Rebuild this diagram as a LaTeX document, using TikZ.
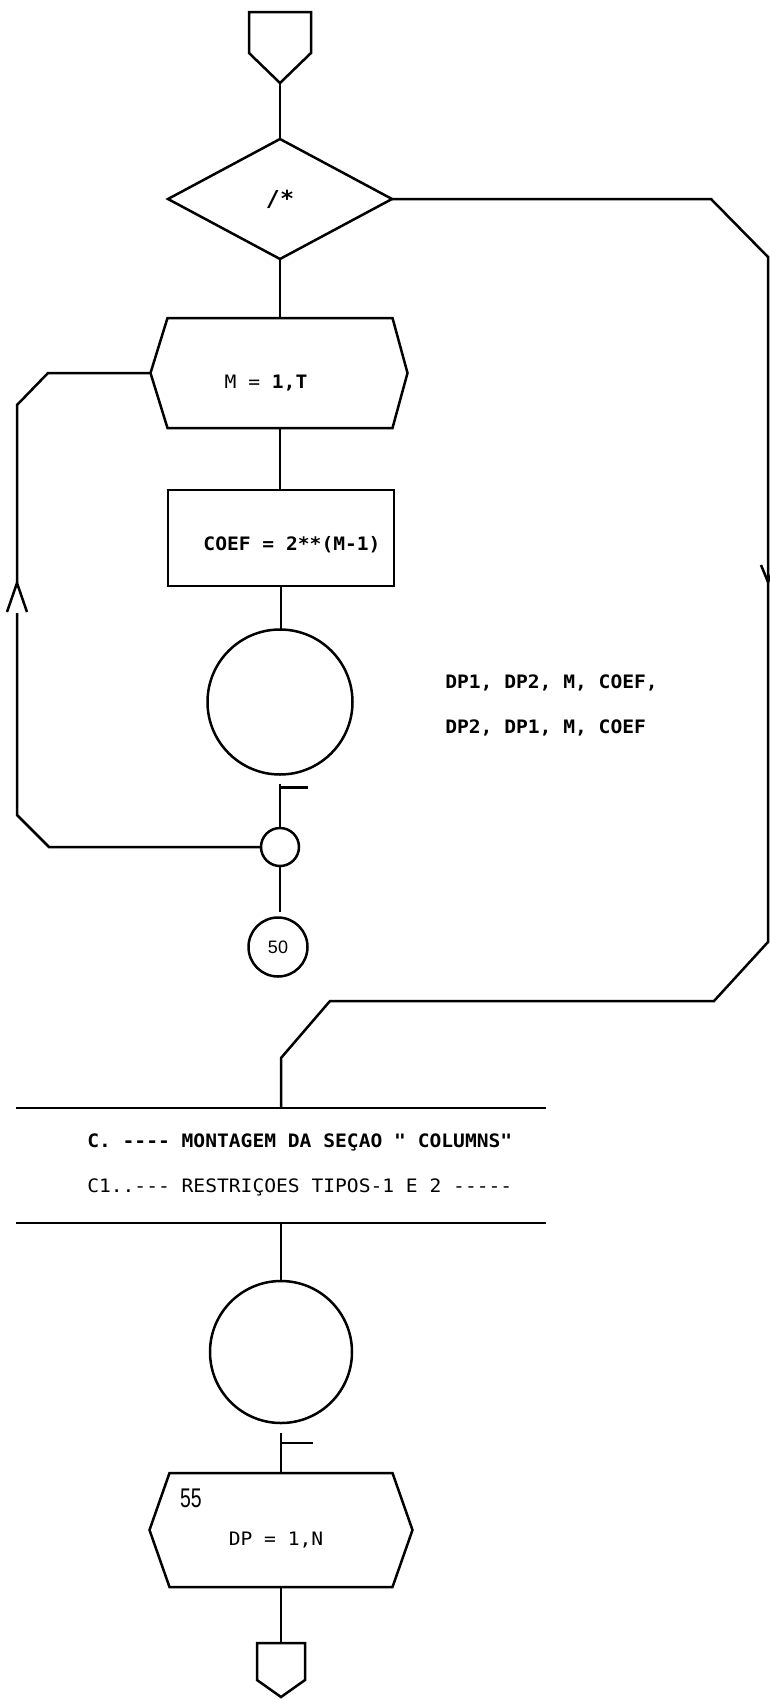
\documentclass[tikz,border=0pt]{standalone}
\usepackage{fontspec}
\usepackage{graphicx}
\setmonofont[FakeStretch=1.06]{DejaVu Sans Mono}
\newfontfamily\lsans{Liberation Sans}
\usetikzlibrary{shapes.geometric}
\begin{document}
\begin{tikzpicture}[x=1pt,y=-1pt,line width=2.5pt,line join=miter,
  txtb/.style={font=\ttfamily\bfseries\fontsize{18.5}{20}\selectfont,inner sep=0pt},
  txtr/.style={font=\ttfamily\fontsize{18.5}{20}\selectfont,inner sep=0pt},
  frame/.style={rectangle,inner sep=0pt,outer sep=0pt},
  box/.style={draw,rectangle,inner sep=0pt,outer sep=0pt},
  conn/.style={draw,circle,inner sep=0pt,outer sep=0pt}]
\useasboundingbox (0,0) rectangle (770,1700);

% start off-page connector
\node[frame,minimum width=62pt,minimum height=41pt] (start) at (280,32.5) {};
\coordinate (starttip) at (280,83);
\draw (start.north west) -- (start.north east) -- (start.south east) -- (starttip) -- (start.south west) -- cycle;

% decision
\node[draw,diamond,minimum width=224pt,minimum height=120pt,inner sep=0pt,outer sep=0pt,
      font=\ttfamily\bfseries\fontsize{22}{24}\selectfont] (dec) at (280,199) {/*};

% preparation 1
\node[frame,minimum width=225pt,minimum height=110pt] (prep1) at (280,373) {};
\coordinate (prep1w) at ([xshift=-17pt]prep1.west);
\draw (prep1.north west) -- (prep1.north east) -- ([xshift=15pt]prep1.east) -- (prep1.south east)
      -- (prep1.south west) -- (prep1w) -- cycle;
\node[txtr] (tprep1) at (266,383) {M = \textbf{1,T}};

% process
\node[box,minimum width=226pt,minimum height=96pt] (calc) at (281,538) {};
\node[txtb] (tcalc) at (292,545) {COEF = 2**(M-1)};

% I/O circle 1
\node[conn,minimum size=145pt] (io1) at (280,702) {};
\node[txtb,anchor=west] (note1) at (444,683) {DP1, DP2, M, COEF,};
\node[txtb,anchor=west] (note2) at (444,728) {DP2, DP1, M, COEF};

% junction and connector 50
\node[conn,minimum size=38pt] (jn) at (280,847) {};
\node[conn,minimum size=59pt,font=\lsans\fontsize{18}{20}\selectfont] (c50) at (278,947) {50};

% comment header
\node[frame,minimum width=530pt,minimum height=115pt] (hdr) at (281,1165.5) {};
\draw (hdr.north west) -- (hdr.north east);
\draw (hdr.south west) -- (hdr.south east);
\node[txtb,anchor=west] (h1) at (86,1142) {C. ---- MONTAGEM DA SEÇAO " COLUMNS"};
\node[txtr,anchor=west] (h2) at (86,1187) {C1..--- RESTRIÇOES TIPOS-1 E 2 -----};

% I/O circle 2
\node[conn,minimum size=142pt] (io2) at (281,1352) {};

% preparation 2
\node[frame,minimum width=223pt,minimum height=114pt] (prep2) at (281,1530) {};
\draw (prep2.north west) -- (prep2.north east) -- ([xshift=20pt]prep2.east) -- (prep2.south east)
      -- (prep2.south west) -- ([xshift=-20pt]prep2.west) -- cycle;
\node[font=\lsans\fontsize{27}{28}\selectfont,inner sep=0pt] (n55) at (191,1498) {\scalebox{0.72}[1]{55}};
\node[txtr] (tprep2) at (276,1540) {DP = 1,N};

% end off-page connector
\node[frame,minimum width=48pt,minimum height=37pt] (stop) at (281,1661.5) {};
\coordinate (stoptip) at (281,1697);
\draw (stop.north west) -- (stop.north east) -- (stop.south east) -- (stoptip) -- (stop.south west) -- cycle;

% main flow
\draw (starttip) -- (dec.north);
\draw (dec.south) -- (prep1.north);
\draw (prep1.south) -- (prep1.south |- calc.north);
\draw (calc.south) -- (calc.south |- io1.north);
\coordinate (f1) at ([yshift=-9pt]io1.south);
\draw (f1) -- (jn.north);
\draw ([yshift=-4pt]f1) -- ++(28,0);
\coordinate (g50) at ([yshift=6pt]c50.north);
\draw (jn.south) -- (jn.south |- g50);

% loop back
\coordinate (lx) at (48,0);
\coordinate (lb1) at (49,847);
\coordinate (lb2) at (17,815);
\coordinate (lc) at (17,613);
\coordinate (la) at (17,583);
\coordinate (lt1) at (17,405);
\coordinate (lt2) at (prep1w -| lx);
\draw (jn.west) -- (lb1) -- (lb2) -- (lc);
\draw (la) -- (lt1) -- (lt2) -- (prep1w);
\draw ([xshift=-10pt,yshift=-29pt]la) -- (la) -- ([xshift=10pt,yshift=-29pt]la);

% right-hand path
\coordinate (rx) at (711,0);
\coordinate (r1) at (dec.east -| rx);
\coordinate (r2) at (768,257);
\coordinate (rv) at (768,582);
\coordinate (r3) at (768,942);
\coordinate (r4) at (714,1001);
\coordinate (r5) at (330,1001);
\coordinate (r6) at (281,1058);
\draw (dec.east) -- (r1) -- (r2) -- (r3) -- (r4) -- (r5) -- (r6) -- (hdr.north);
\draw ([xshift=-7pt,yshift=17pt]rv) -- (rv) -- ([xshift=7pt,yshift=17pt]rv);

% lower flow
\draw (hdr.south) -- (io2.north);
\coordinate (f2) at ([yshift=-10pt]io2.south);
\draw (f2) -- (prep2.north);
\draw ([yshift=-10pt]f2) -- ++(32,0);
\draw (prep2.south) -- (stop.north);
\end{tikzpicture}
\end{document}
